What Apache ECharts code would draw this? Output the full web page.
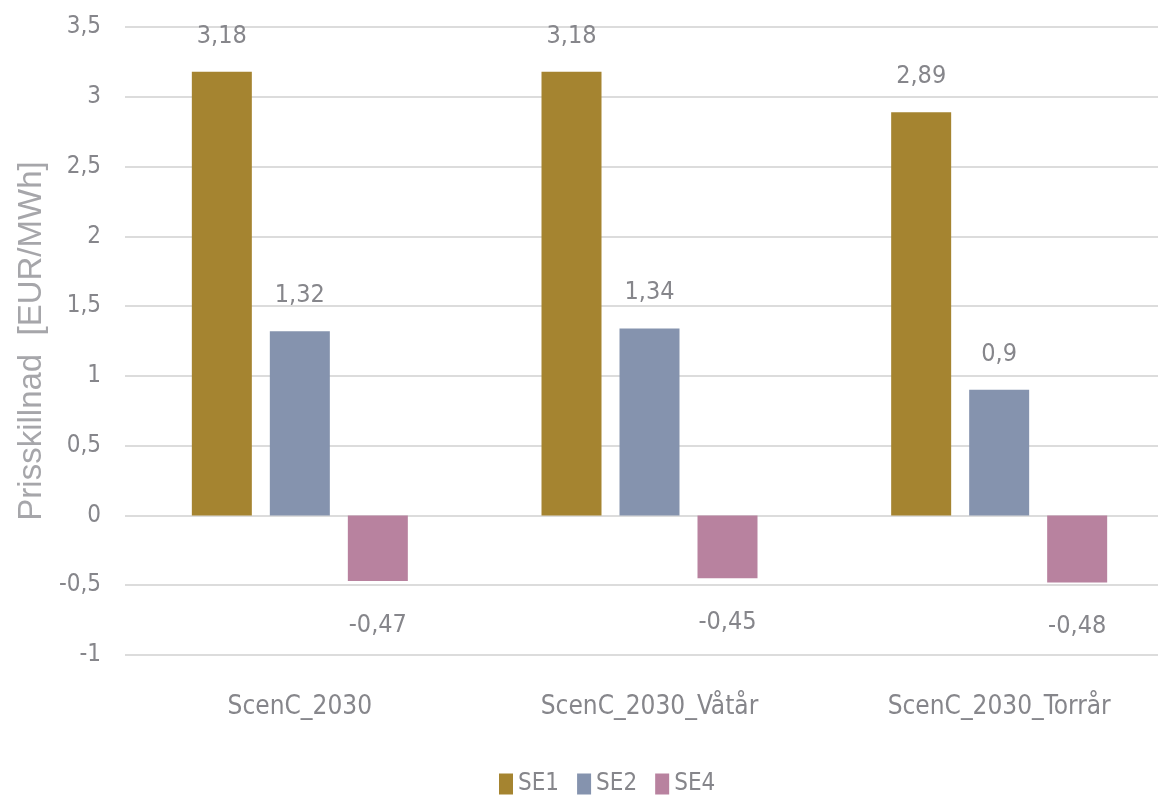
<!DOCTYPE html>
<html>
<head>
<meta charset="utf-8">
<script src="https://cdn.jsdelivr.net/npm/echarts@6/dist/echarts.min.js"></script>
<style>
  html, body { margin: 0; padding: 0; background: #fff; }
  #chart { width: 1158px; height: 795px; }
</style>
</head>
<body>
<div id="chart"></div>
<script>
// Price difference per bidding zone and scenario
const categories = ['ScenC_2030', 'ScenC_2030_Våtår', 'ScenC_2030_Torrår'];
const se1 = [3.18, 3.18, 2.89];
const se2 = [1.32, 1.34, 0.9];
const se4 = [-0.47, -0.45, -0.48];
const seriesNames = ['SE1', 'SE2', 'SE4'];
const colors = ['#A58430', '#8593AE', '#B8829F'];

const condensed = '"DejaVu Sans Condensed", "Liberation Sans", sans-serif';
const textColor = '#86868b';
const comma = v => String(v).replace('.', ',');

const chart = echarts.init(document.getElementById('chart'));

function barSeries(name, data, color, dist) {
  return {
    name: name,
    type: 'bar',
    data: data,
    barWidth: 60,
    barGap: '30%',
    itemStyle: { color: color },
    label: {
      show: true,
      position: 'outside',
      distance: dist,
      fontFamily: condensed,
      fontSize: 25,
      color: textColor,
      formatter: p => comma(p.value)
    }
  };
}

chart.setOption({
  animation: false,
  color: colors,
  grid: {
    left: 125, top: 27, width: 1049, height: 628,
    containLabel: false,
    outerBoundsMode: 'none'
  },
  legend: {
    top: 767,
    left: 494,
    itemWidth: 14,
    itemHeight: 21,
    itemGap: 18,
    icon: 'rect',
    textStyle: { fontFamily: condensed, fontSize: 24, color: textColor },
    data: seriesNames
  },
  xAxis: {
    type: 'category',
    data: categories,
    axisLine: { show: false },
    axisTick: { show: false },
    axisLabel: {
      margin: 39,
      fontFamily: condensed,
      fontSize: 26,
      color: textColor
    }
  },
  yAxis: {
    type: 'value',
    min: -1,
    max: 3.5,
    interval: 0.5,
    name: 'Prisskillnad  [EUR/MWh]',
    nameLocation: 'middle',
    nameGap: 76,
    nameTextStyle: { fontFamily: '"Liberation Sans", Arial, sans-serif', fontSize: 33, color: '#a6a6aa' },
    axisLine: { show: false },
    axisTick: { show: false },
    splitLine: { lineStyle: { color: '#dcdcdc', width: 2 } },
    axisLabel: {
      margin: 24,
      padding: [7, 0, 0, 0],
      fontFamily: condensed,
      fontSize: 24,
      color: textColor,
      formatter: v => comma(v)
    }
  },
  series: [
    barSeries(seriesNames[0], se1, colors[0], 23),
    barSeries(seriesNames[1], se2, colors[1], 23),
    barSeries(seriesNames[2], se4, colors[2], 32)
  ]
});
</script>
</body>
</html>
